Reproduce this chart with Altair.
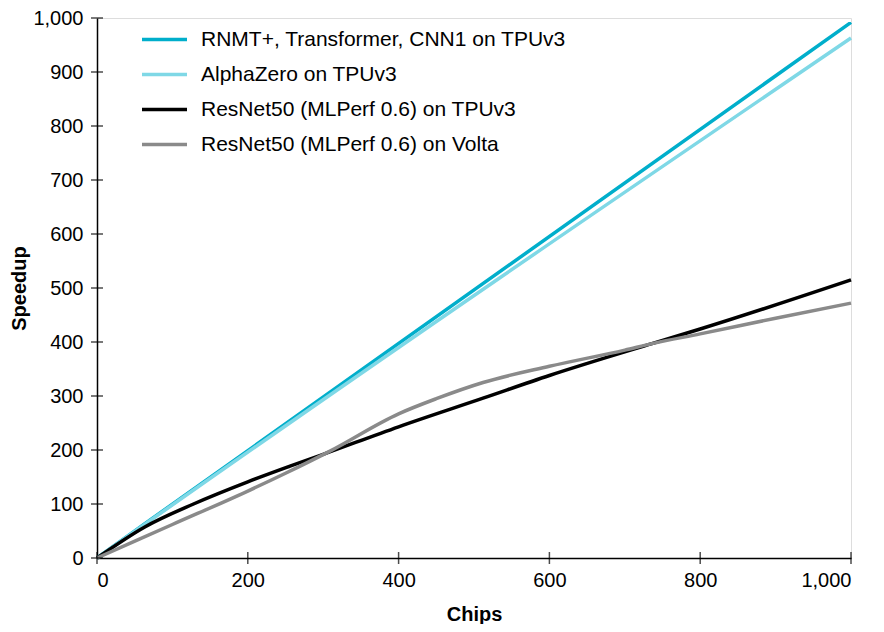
import altair as alt
import pandas as pd

series_names = [
    "RNMT+, Transformer, CNN1 on TPUv3",
    "AlphaZero on TPUv3",
    "ResNet50 (MLPerf 0.6) on TPUv3",
    "ResNet50 (MLPerf 0.6) on Volta",
]
colors = ["#00AECB", "#7FD8E6", "#000000", "#8A8A8A"]

rnmt_x = [0, 64, 1000]
rnmt_y = [0, 64, 992]

alpha_x = [0, 64, 1000]
alpha_y = [0, 63, 963]

tpu_x = [0, 64, 128, 200, 256, 300, 400, 512, 600, 736, 800, 1000]
tpu_y = [0, 58, 100, 141, 170, 192, 243, 296, 338, 397, 424, 515]

volta_x = [0, 100, 200, 250, 309, 400, 450, 512, 600, 700, 736, 800, 900, 1000]
volta_y = [0, 62, 124, 157, 198, 267, 295, 325, 355, 385, 397, 415, 444, 472]

x_ticks = [0, 200, 400, 600, 800, 1000]
y_ticks = [0, 100, 200, 300, 400, 500, 600, 700, 800, 900, 1000]

rows = []
for name, xs, ys in zip(series_names, [rnmt_x, alpha_x, tpu_x, volta_x],
                        [rnmt_y, alpha_y, tpu_y, volta_y]):
    for i, (a, b) in enumerate(zip(xs, ys)):
        rows.append({"series": name, "chips": a, "speedup": b, "order": i})
df = pd.DataFrame(rows)

FONT = "Liberation Sans"

xscale = alt.Scale(domain=[0, 1000], nice=False)
yscale = alt.Scale(domain=[0, 1000], nice=False)

xaxis = alt.Axis(values=x_ticks, format=",.0f", ticks=False, grid=False,
                 domainColor="black", domainWidth=1.5,
                 labelFont=FONT, labelFontSize=20, labelColor="black", labelPadding=12,
                 titleFont=FONT, titleFontSize=20, titleFontWeight="bold",
                 titleColor="black", titlePadding=14)
yaxis = alt.Axis(values=y_ticks, format=",.0f", ticks=False, grid=False,
                 domainColor="black", domainWidth=1.5,
                 labelFont=FONT, labelFontSize=20, labelColor="black", labelPadding=14,
                 titleFont=FONT, titleFontSize=20, titleFontWeight="bold",
                 titleColor="black", titlePadding=3)

lines = alt.Chart(df).mark_line(strokeWidth=3.5, interpolate="monotone").encode(
    x=alt.X("chips:Q", scale=xscale, title="Chips", axis=xaxis),
    y=alt.Y("speedup:Q", scale=yscale, title="Speedup", axis=yaxis),
    color=alt.Color("series:N", sort=series_names,
                    scale=alt.Scale(domain=series_names, range=colors),
                    legend=alt.Legend(title=None, orient="none", legendX=43, legendY=-3,
                                      symbolType="stroke", symbolSize=2025,
                                      symbolStrokeWidth=3.5, labelFont=FONT,
                                      labelFontSize=21, labelColor="black", labelLimit=0,
                                      labelOffset=12, rowPadding=-20)),
    order="order:Q",
)

xt = alt.Chart(pd.DataFrame({"chips": x_ticks})).mark_tick(
    orient="vertical", size=12, thickness=1.5, color="black").encode(
    x=alt.X("chips:Q", scale=xscale, title="Chips", axis=xaxis), y=alt.value(540))
yt = alt.Chart(pd.DataFrame({"speedup": y_ticks})).mark_tick(
    orient="horizontal", size=12, thickness=1.5, color="black").encode(
    y=alt.Y("speedup:Q", scale=yscale, title="Speedup", axis=yaxis), x=alt.value(0))

chart = alt.layer(lines, xt, yt).properties(
    width=754, height=540,
    autosize=alt.AutoSizeParams(type="none"),
    padding={"left": 89, "top": 10, "right": 25, "bottom": 66},
).configure_view(stroke=None).configure(background="white")

chart.save("out.html", embed_options={"renderer": "svg", "actions": False})
